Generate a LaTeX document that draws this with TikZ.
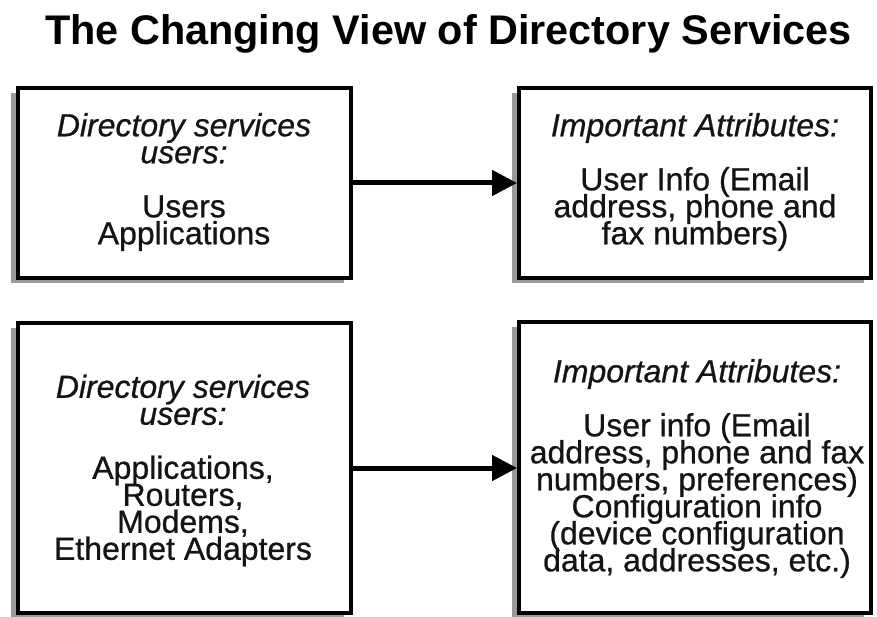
\documentclass[tikz,border=0pt]{standalone}
\usepackage{fontspec}
\setmainfont{Liberation Sans}
% slightly emboldened face for the box texts
\newfontfamily\boxfont{Liberation Sans}[
  BoldFont=Liberation Sans, BoldFeatures={FakeBold=0.7},
  BoldItalicFont=Liberation Sans Italic, BoldItalicFeatures={FakeBold=0.7}]
\usetikzlibrary{arrows.meta,shadows}

% fixed baseline distance, even where ascenders and descenders collide
\newcommand{\tightlines}{\lineskiplimit=-100pt\relax\lineskip=0pt\relax}

\tikzset{
  infobox/.style={draw=black, line width=4pt, fill=white, inner sep=0pt,
    drop shadow={shadow xshift=-7pt, shadow yshift=-5pt, opacity=1, fill=black!40}},
  boxtext/.style={align=center, inner sep=0pt, text=black!92,
    font={\boxfont\bfseries\fontsize{32}{27}\selectfont\tightlines}},
  flow/.style={line width=5pt, -{Triangle[length=25pt,width=25pt]}},
  heading/.style={font=\bfseries\fontsize{41.4}{45}\selectfont, inner sep=0pt}
}

\begin{document}
\begin{tikzpicture}[x=1pt, y=-1pt]
  \useasboundingbox (0,0) rectangle (877,617);

  \node[heading, anchor=base] (title) at (448.5,45)
    {The Changing View of Directory Services};

  % frames
  \node[infobox, minimum width=333pt, minimum height=190pt] (u1) at (184.5,183) {};
  \node[infobox, minimum width=352pt, minimum height=190pt] (a1) at (695,183) {};
  \node[infobox, minimum width=333pt, minimum height=290pt] (u2) at (184.5,468) {};
  \node[infobox, minimum width=352pt, minimum height=291pt] (a2) at (695,467.5) {};

  % texts
  \node[boxtext] (u1t) at (184,182)
    {\itshape Directory services\\ \itshape users:\\[27pt] Users\\ Applications};
  \node[boxtext] (a1t) at (695,182)
    {\itshape Important Attributes:\\[27pt] User Info (Email\\ address, phone and\\ fax numbers)};
  \node[boxtext] (u2t) at (183,470.5)
    {\itshape Directory services\\ \itshape users:\\[27pt] Applications,\\ Routers,\\ Modems,\\ Ethernet Adapters};
  \node[boxtext] (a2t) at (697,468.5)
    {\itshape Important Attributes:\\[27pt] User info (Email\\ address, phone and fax\\ numbers, preferences)\\ Configuration info\\ (device configuration\\ data, addresses, etc.)};

  \draw[flow] (u1.east) -- (a1.west);
  \draw[flow] (u2.east) -- (a2.west |- u2.east);
\end{tikzpicture}
\end{document}
